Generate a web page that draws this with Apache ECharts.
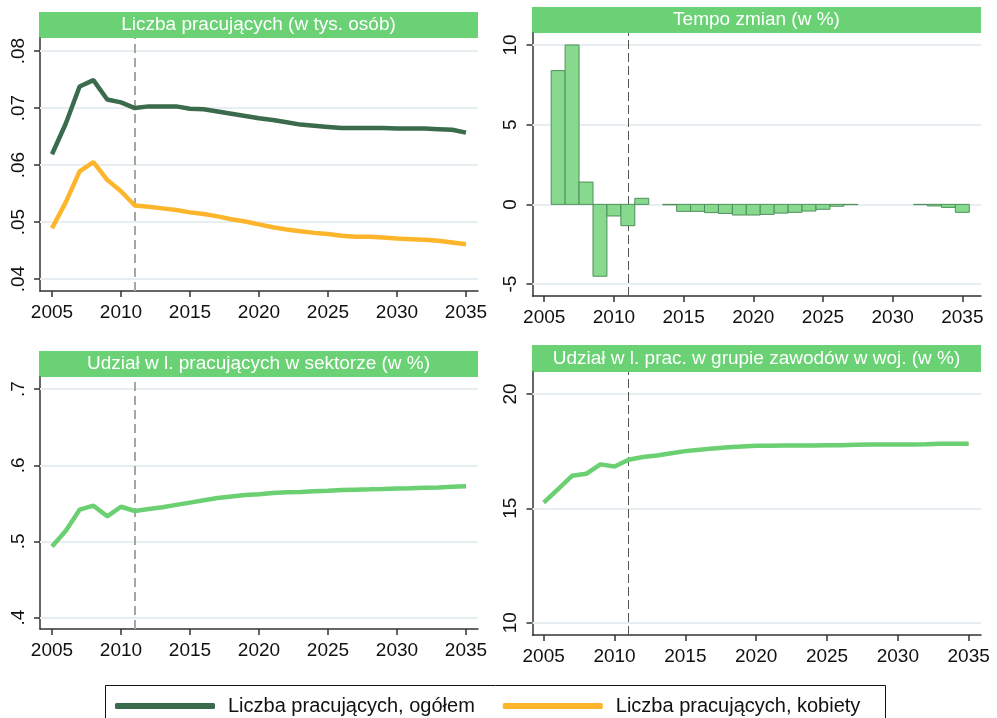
<!DOCTYPE html>
<html><head><meta charset="utf-8">
<script src="https://cdn.jsdelivr.net/npm/echarts@6/dist/echarts.min.js"></script>
<style>html,body{margin:0;padding:0;background:#fff}#c{width:997px;height:718px}</style>
</head><body><div id="c"></div>
<script>
const years = [2005,2006,2007,2008,2009,2010,2011,2012,2013,2014,2015,2016,2017,2018,2019,2020,2021,2022,2023,2024,2025,2026,2027,2028,2029,2030,2031,2032,2033,2034,2035];
const xTicks = [2005,2010,2015,2020,2025,2030,2035];

const ogolem = [0.0619,0.0673,0.0738,0.0749,0.0715,0.0710,0.0700,0.0703,0.0703,0.0703,0.0699,0.0698,0.0694,0.0690,0.0686,0.0682,0.0679,0.0675,0.0671,0.0669,0.0667,0.0665,0.0665,0.0665,0.0665,0.0664,0.0664,0.0664,0.0663,0.0662,0.0657];
const kobiety = [0.0489,0.0535,0.0589,0.0605,0.0574,0.0554,0.0529,0.0527,0.0524,0.0521,0.0517,0.0514,0.0510,0.0505,0.0501,0.0496,0.0491,0.0487,0.0484,0.0481,0.0479,0.0476,0.0474,0.0474,0.0473,0.0471,0.0470,0.0469,0.0467,0.0464,0.0461];
const tempo = [null,8.39,10.0,1.40,-4.51,-0.73,-1.34,0.38,null,-0.03,-0.44,-0.44,-0.52,-0.57,-0.67,-0.67,-0.63,-0.55,-0.50,-0.42,-0.31,-0.12,-0.02,null,null,null,null,-0.02,-0.10,-0.19,-0.50];
const udzialSektor = [0.4934,0.514,0.5417,0.547,0.533,0.5456,0.540,0.5425,0.545,0.548,0.551,0.554,0.557,0.559,0.561,0.562,0.5636,0.5645,0.565,0.566,0.5667,0.5675,0.568,0.5684,0.569,0.5697,0.570,0.5706,0.571,0.572,0.5724];
const udzialWoj = [15.25,15.83,16.42,16.51,16.92,16.83,17.12,17.24,17.31,17.41,17.50,17.56,17.62,17.67,17.70,17.73,17.73,17.75,17.75,17.75,17.76,17.76,17.78,17.79,17.79,17.79,17.79,17.80,17.82,17.82,17.82];

const yTicksTL = [0.04,0.05,0.06,0.07,0.08];
const yTicksTR = [-5,0,5,10];
const yTicksBL = [0.4,0.5,0.6,0.7];
const yTicksBR = [10,15,20];
const prognozaStart = 2011;

const titles = ['Liczba pracujących (w tys. osób)','Tempo zmian (w %)','Udział w l. pracujących w sektorze (w %)','Udział w l. prac. w grupie zawodów w woj. (w %)'];
const legendNames = ['Liczba pracujących, ogółem','Liczba pracujących, kobiety'];

const FONT = "'Liberation Sans', Arial, sans-serif";
const C_DARK = '#3A6B4C', C_YEL = '#FDB62B', C_LG = '#6AD072', C_TITLE = '#6BD175';

const grids = [
  {left:40, top:38, width:438, height:253},
  {left:532.5, top:33, width:448.5, height:263},
  {left:40, top:377, width:438, height:252},
  {left:532.5, top:372, width:448.5, height:263}
];
const xr = [[2004.13,2035.87],[2004.16,2036.34],[2004.13,2035.87],[2004.21,2035.87]];
const yr = [[0.0379,0.0823],[-5.75,10.75],[0.385,0.716],[9.46,20.96]];
const yt = [yTicksTL,yTicksTR,yTicksBL,yTicksBR];
const titleBoxes = [[39,12,439,26],[532,7,449,26],[39,351,439,26],[532,345,449,27]];

const fmtY = v => String(v).replace(/^0\./,'.').replace(/^-0\./,'-.');

const xAxis = grids.map((g,i)=>({
  type:'value', gridIndex:i, min:xr[i][0], max:xr[i][1],
  axisLine:{show:true, onZero:false, lineStyle:{color:'#333', width:1.5}},
  axisTick:{show:true, length:6, customValues:xTicks, lineStyle:{color:'#333', width:1.5}},
  axisLabel:{customValues:xTicks, fontSize:19, color:'#111', fontFamily:FONT, margin:12, formatter:v=>String(v)},
  splitLine:{show:false}
}));
const yAxis = grids.map((g,i)=>({
  type:'value', gridIndex:i, min:yr[i][0], max:yr[i][1],
  axisLine:{show:true, onZero:false, lineStyle:{color:'#333', width:1.5}},
  axisTick:{show:true, length:6, customValues:yt[i], lineStyle:{color:'#333', width:1.5}},
  axisLabel:{customValues:yt[i], fontSize:19, color:'#111', fontFamily:FONT, rotate:90, margin:12, formatter:fmtY},
  splitLine:{show:false}
}));

function gridLines(i){
  return {type:'line', xAxisIndex:i, yAxisIndex:i, data:[], silent:true, z:1,
    markLine:{silent:true, symbol:'none', label:{show:false}, animation:false, z:1,
      lineStyle:{color:'#E6EEF2', width:2, type:'solid'},
      data: yt[i].map(v=>({yAxis:v}))}};
}
function vLine(i, dark){
  return {type:'line', xAxisIndex:i, yAxisIndex:i, data:[], silent:true, z:2,
    markLine:{silent:true, symbol:'none', label:{show:false}, animation:false, z:2,
      lineStyle: dark ? {color:'#555', width:1, type:[9,4]} : {color:'#A6A6A6', width:2, type:[9,5]},
      data:[{xAxis:prognozaStart}]}};
}
const lineData = arr => years.map((y,k)=>[y, arr[k]]);

const series = [
  gridLines(0), gridLines(1), gridLines(2), gridLines(3),
  vLine(0,false), vLine(1,true), vLine(2,false), vLine(3,true),
  {name:legendNames[0], type:'line', xAxisIndex:0, yAxisIndex:0, data:lineData(ogolem), showSymbol:false, z:3,
   lineStyle:{color:C_DARK, width:4.5}, itemStyle:{color:C_DARK}},
  {name:legendNames[1], type:'line', xAxisIndex:0, yAxisIndex:0, data:lineData(kobiety), showSymbol:false, z:3,
   lineStyle:{color:C_YEL, width:4.5}, itemStyle:{color:C_YEL}},
  {name:'Tempo zmian', type:'custom', xAxisIndex:1, yAxisIndex:1, z:3,
   data: years.map((y,k)=>[y, tempo[k]]).filter(d=>d[1]!==null),
   renderItem:(params, api)=>{
     const x = api.value(0), v = api.value(1);
     const p0 = api.coord([x-0.5, v]), p1 = api.coord([x+0.5, 0]);
     return {type:'rect', shape:{x:p0[0], y:Math.min(p0[1],p1[1]), width:p1[0]-p0[0], height:Math.abs(p1[1]-p0[1])},
       style:{fill:'#86D98D', stroke:'#4F8F5C', lineWidth:1}};
   }},
  {name:'Udział sektor', type:'line', xAxisIndex:2, yAxisIndex:2, data:lineData(udzialSektor), showSymbol:false, z:3,
   lineStyle:{color:C_LG, width:4.5}, itemStyle:{color:C_LG}},
  {name:'Udział woj', type:'line', xAxisIndex:3, yAxisIndex:3, data:lineData(udzialWoj), showSymbol:false, z:3,
   lineStyle:{color:C_LG, width:4.5}, itemStyle:{color:C_LG}}
];

const graphic = [];
titleBoxes.forEach((b,i)=>{
  graphic.push({type:'rect', left:b[0], top:b[1], shape:{width:b[2], height:b[3]}, style:{fill:C_TITLE}, silent:true});
  graphic.push({type:'text', x:b[0]+b[2]/2, y:b[1]+b[3]/2, style:{text:titles[i], fill:'#fff', font:'19px '+FONT, align:'center', verticalAlign:'middle'}, silent:true});
});
graphic.push({type:'rect', left:103, top:683, shape:{width:780, height:50}, style:{fill:'none', stroke:'#111', lineWidth:1}, silent:true});

const chart = echarts.init(document.getElementById('c'), null, {renderer:'canvas'});
chart.setOption({
  animation:false,
  backgroundColor:'#fff',
  grid: grids,
  xAxis, yAxis, series, graphic,
  legend:{data:legendNames, left:110, top:691, icon:'roundRect', itemWidth:100, itemHeight:6, itemGap:28,
    textStyle:{fontSize:20, lineHeight:20, color:'#111', fontFamily:FONT, padding:[0,0,0,8]},
    selectedMode:false}
});
</script></body></html>
